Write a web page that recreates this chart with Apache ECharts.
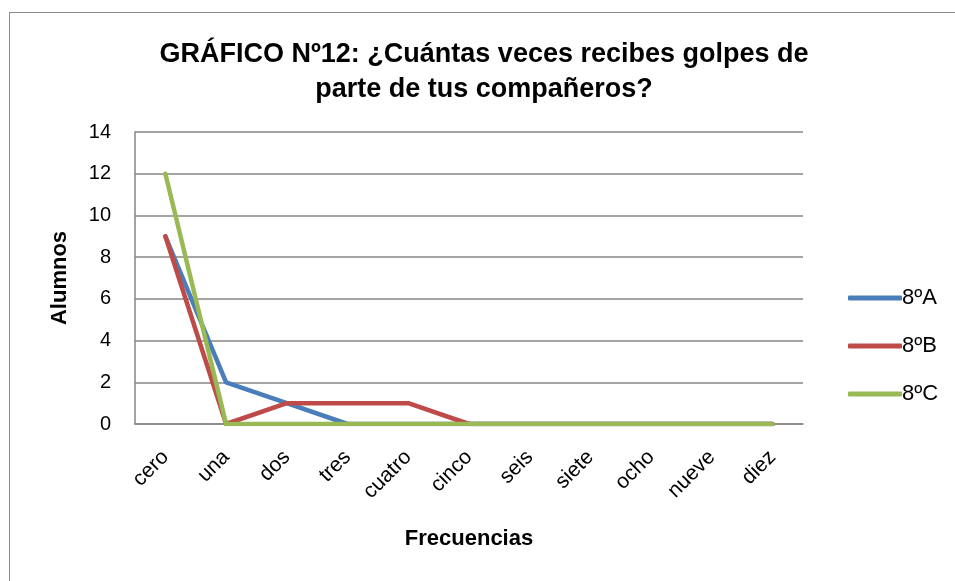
<!DOCTYPE html>
<html>
<head>
<meta charset="utf-8">
<script src="https://cdn.jsdelivr.net/npm/echarts@6/dist/echarts.min.js"></script>
<style>
  html, body { margin: 0; padding: 0; background: #fff; overflow: hidden; }
  #marco { position: absolute; left: 9px; top: 12px; width: 980px; height: 600px; border: 1px solid #8c8c8c; }
  #chart { position: absolute; left: 0; top: 0; width: 955px; height: 581px; }
</style>
</head>
<body>
<div id="marco"></div>
<div id="chart"></div>
<script>
  // categorias del eje x
  var categorias = ['cero', 'una', 'dos', 'tres', 'cuatro', 'cinco', 'seis', 'siete', 'ocho', 'nueve', 'diez'];
  // alumnos por curso
  var curso8A = [9, 2, 1, 0, 0, 0, 0, 0, 0, 0, 0];
  var curso8B = [9, 0, 1, 1, 1, 0, 0, 0, 0, 0, 0];
  var curso8C = [12, 0, 0, 0, 0, 0, 0, 0, 0, 0, 0];

  var myChart = echarts.init(document.getElementById('chart'));
  var fuente = 'Liberation Sans';

  function serie(nombre, datos, color) {
    return {
      name: nombre,
      type: 'line',
      data: datos,
      symbol: 'none',
      lineStyle: { width: 4.5, color: color, cap: 'round', join: 'round' },
      itemStyle: { color: color }
    };
  }

  var option = {
    animation: false,
    title: {
      text: 'GRÁFICO Nº12: ¿Cuántas veces recibes golpes de\nparte de tus compañeros?',
      left: 479,
      textAlign: 'center',
      top: 32,
      textStyle: { fontFamily: fuente, fontSize: 27, fontWeight: 'bold', color: '#000', lineHeight: 35 }
    },
    legend: {
      orient: 'vertical',
      left: 843,
      top: 282,
      itemGap: 26,
      itemWidth: 54,
      itemHeight: 5,
      icon: 'roundRect',
      textStyle: { fontFamily: fuente, fontSize: 22, color: '#000', padding: [0, 0, 0, -5] },
      data: ['8ºA', '8ºB', '8ºC']
    },
    grid: { left: 135, right: 152, top: 132, bottom: 157 },
    xAxis: {
      type: 'category',
      data: categorias,
      boundaryGap: true,
      name: 'Frecuencias',
      nameLocation: 'middle',
      nameGap: 104,
      nameTextStyle: { fontFamily: fuente, fontSize: 22, fontWeight: 'bold', color: '#000' },
      axisLine: { lineStyle: { color: '#868686', width: 1.5 } },
      axisTick: { show: false },
      axisLabel: { rotate: 45, fontFamily: fuente, fontSize: 21, color: '#000', margin: 30 }
    },
    yAxis: {
      type: 'value',
      min: 0,
      max: 14,
      interval: 2,
      name: 'Alumnos',
      nameLocation: 'middle',
      nameGap: 64,
      nameTextStyle: { fontFamily: fuente, fontSize: 22, fontWeight: 'bold', color: '#000' },
      axisLine: { show: true, lineStyle: { color: '#868686', width: 1.5 } },
      axisTick: { show: false },
      axisLabel: { fontFamily: fuente, fontSize: 20, color: '#000', margin: 24 },
      splitLine: { lineStyle: { color: '#868686', width: 1.5 } }
    },
    series: [
      serie('8ºA', curso8A, '#4A7EBB'),
      serie('8ºB', curso8B, '#BE4B48'),
      serie('8ºC', curso8C, '#98B954')
    ]
  };

  myChart.setOption(option);
</script>
</body>
</html>
